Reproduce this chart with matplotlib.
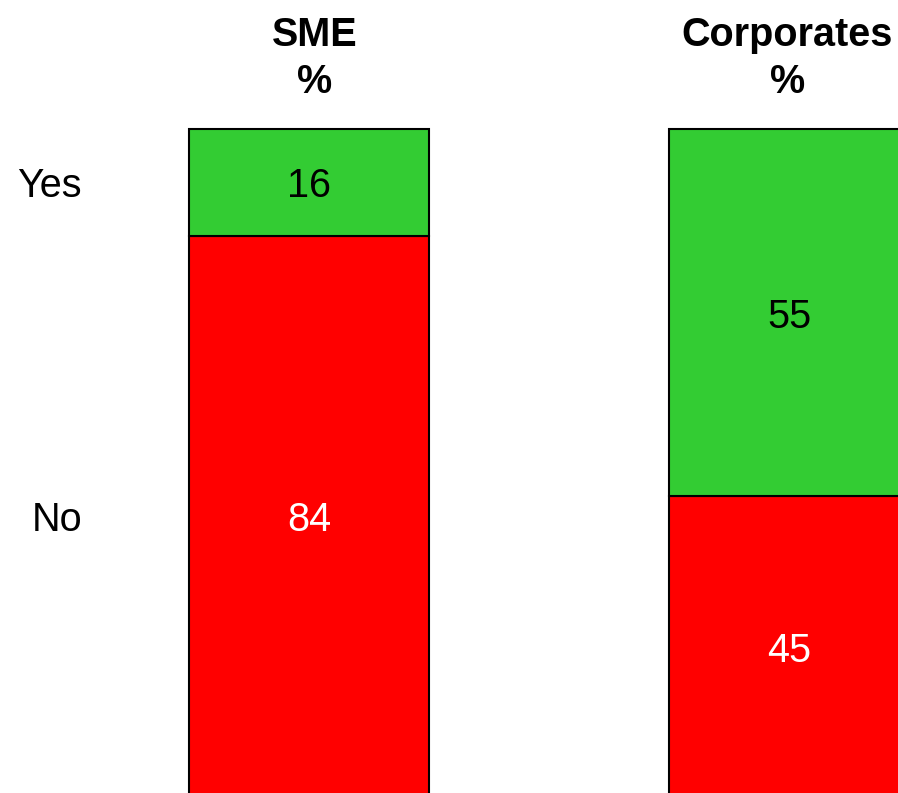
import matplotlib.pyplot as plt

plt.rcParams['font.family'] = ['Liberation Sans', 'DejaVu Sans']

groups = ['SME', 'Corporates']
answers = ['Yes', 'No']
yes_pct = [16, 55]
no_pct = [84, 45]

green = '#33cc33'
red = '#ff0000'

fig = plt.figure(figsize=(8.98, 7.93), dpi=100)
ax = fig.add_axes([0, 0, 1, 1])

# one unit between bars = 480 px, 100 % = 668 px
ax.set_xlim(-0.64375, 1.22708)
ax.set_ylim(0.6, 119.31)
ax.axis('off')

x = [0, 1]
ax.bar(x, no_pct, width=0.5, color=red, edgecolor='black', linewidth=1.5)
ax.bar(x, yes_pct, width=0.5, bottom=no_pct, color=green,
       edgecolor='black', linewidth=1.5)

fs = 28.5
title_shift = [0.011, -0.004]
for i in range(len(groups)):
    ax.text(x[i], no_pct[i] + yes_pct[i] / 2, str(yes_pct[i]),
            ha='center', va='center_baseline', fontsize=fs, color='black')
    ax.text(x[i], no_pct[i] / 2, str(no_pct[i]),
            ha='center', va='center_baseline', fontsize=fs, color='white')
    ax.text(x[i] + title_shift[i], 110.6, groups[i] + '\n%',
            ha='center', va='center',
            fontsize=fs, fontweight='bold', linespacing=1.3)

# row labels next to the first bar
ax.text(-0.473, no_pct[0] + yes_pct[0] / 2, answers[0],
        ha='right', va='center_baseline', fontsize=fs)
ax.text(-0.473, no_pct[0] / 2, answers[1],
        ha='right', va='center_baseline', fontsize=fs)

fig.savefig('out.png', dpi=100)
